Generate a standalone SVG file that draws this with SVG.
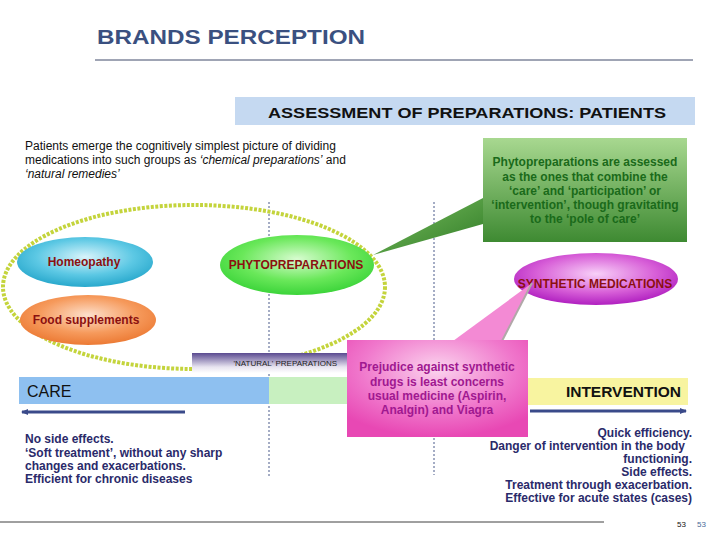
<svg xmlns="http://www.w3.org/2000/svg" width="720" height="540" viewBox="0 0 720 540">
<defs>
<radialGradient id="gCyan" cx="50%" cy="40%" r="60%"><stop offset="0" stop-color="#d8f4fb"/><stop offset="0.6" stop-color="#5cc8e4"/><stop offset="1" stop-color="#28a8cc"/></radialGradient>
<radialGradient id="gOrange" cx="50%" cy="40%" r="60%"><stop offset="0" stop-color="#fde0cc"/><stop offset="0.6" stop-color="#f69a5c"/><stop offset="1" stop-color="#ec7a34"/></radialGradient>
<radialGradient id="gGreen" cx="50%" cy="40%" r="60%"><stop offset="0" stop-color="#d8fcd0"/><stop offset="0.6" stop-color="#6ae85a"/><stop offset="1" stop-color="#3cd43a"/></radialGradient>
<radialGradient id="gMag" cx="50%" cy="40%" r="60%"><stop offset="0" stop-color="#f8d0f8"/><stop offset="0.6" stop-color="#d860d8"/><stop offset="1" stop-color="#b020c0"/></radialGradient>
<linearGradient id="gBox" x1="0" y1="0" x2="0" y2="1"><stop offset="0" stop-color="#a8d890"/><stop offset="1" stop-color="#3e8a32"/></linearGradient>
<linearGradient id="gWedge" x1="0" y1="0" x2="1" y2="1"><stop offset="0" stop-color="#7cc060"/><stop offset="1" stop-color="#2e7a26"/></linearGradient>
<radialGradient id="gPink" cx="50%" cy="30%" r="70%"><stop offset="0" stop-color="#fbd4ee"/><stop offset="0.6" stop-color="#f078cc"/><stop offset="1" stop-color="#e848b4"/></radialGradient>
<linearGradient id="gNat" x1="0" y1="0" x2="0" y2="1"><stop offset="0" stop-color="#5a4a90"/><stop offset="0.7" stop-color="#e8e4f0"/><stop offset="1" stop-color="#ffffff"/></linearGradient>
<marker id="arr" markerWidth="8" markerHeight="8" refX="6" refY="4" orient="auto" markerUnits="userSpaceOnUse"><path d="M0,1 L7,4 L0,7 Z" fill="#3a4a8a"/></marker>
</defs>
<style>
text{font-family:"Liberation Sans",Arial,sans-serif}
.lbl{font-size:12px;font-weight:bold;fill:#8b1010;text-anchor:middle}
.guide{stroke:#4a5a8a;stroke-width:1;stroke-dasharray:2 2;fill:none}
.body{font-size:12px;font-weight:bold;fill:#2a2a6a}
</style>
<rect width="720" height="540" fill="#ffffff"/>
<text x="97" y="44" font-size="21" font-weight="bold" fill="#3a5080" textLength="268" lengthAdjust="spacingAndGlyphs">BRANDS PERCEPTION</text>
<line x1="95" y1="60" x2="693" y2="60" stroke="#404a6a" stroke-width="1"/>
<rect x="235" y="97" width="460" height="28" fill="#c5d9f1"/>
<text x="467" y="118" font-size="15" font-weight="bold" fill="#111" text-anchor="middle" textLength="398" lengthAdjust="spacingAndGlyphs">ASSESSMENT OF PREPARATIONS: PATIENTS</text>
<text font-size="12" fill="#111"><tspan x="25" y="150">Patients emerge the cognitively simplest picture of dividing</tspan><tspan x="25" y="164">medications into such groups as <tspan font-style="italic">‘chemical preparations’</tspan> and</tspan><tspan x="25" y="178" font-style="italic">‘natural remedies’</tspan></text>
<g id="guides">
<line class="guide" x1="269" y1="202" x2="269" y2="477"/>
<line class="guide" x1="434" y1="202" x2="434" y2="475"/>
</g>
<g id="natural-group">
<ellipse cx="194" cy="287" rx="191" ry="82" fill="none" stroke="#c4d43c" stroke-width="4" stroke-dasharray="3 1.5"/>
</g>
<g id="natural-preparations">
<rect x="192" y="353" width="156" height="20" fill="url(#gNat)"/>
<text x="337" y="366" font-size="8" fill="#222" text-anchor="end">'NATURAL' PREPARATIONS</text>
</g>
<g id="care">
<rect x="19" y="377" width="250" height="27" fill="#8ec0f0"/>
<rect x="269" y="377" width="79" height="27" fill="#c8f0c0"/>
<text x="27" y="397" font-size="16" fill="#111">CARE</text>
</g>
<g id="intervention">
<rect x="528" y="378" width="160" height="27" fill="#f8f4a0"/>
<text x="681" y="397" font-size="15.5" font-weight="bold" fill="#111" text-anchor="end">INTERVENTION</text>
</g>
<g id="connectors">
<line x1="185" y1="412" x2="22" y2="412" stroke="#3a4a8a" stroke-width="3" marker-end="url(#arr)"/>
<line x1="530" y1="411" x2="686" y2="411" stroke="#3a4a8a" stroke-width="3" marker-end="url(#arr)"/>
</g>
<g id="homeopathy">
<ellipse cx="85" cy="262" rx="68" ry="25" fill="url(#gCyan)"/>
<text class="lbl" x="84" y="266">Homeopathy</text>
</g>
<g id="food-supplements">
<ellipse cx="88" cy="320" rx="68" ry="25" fill="url(#gOrange)"/>
<text class="lbl" x="86" y="324">Food supplements</text>
</g>
<g id="phytopreparations">
<ellipse cx="297" cy="265" rx="77" ry="30" fill="url(#gGreen)"/>
<text class="lbl" x="296" y="269">PHYTOPREPARATIONS</text>
</g>
<g id="synthetic-medications">
<ellipse cx="596" cy="279" rx="82" ry="26" fill="url(#gMag)"/>
<text class="lbl" x="595" y="288">SYNTHETIC MEDICATIONS</text>
</g>
<g id="phyto-callout">
<polygon points="483,198 483,224 373,255" fill="url(#gWedge)"/>
<rect x="483" y="138" width="204" height="104" fill="url(#gBox)"/>
<text font-size="12" font-weight="bold" fill="#1a6a1a" text-anchor="middle"><tspan x="585" y="166">Phytopreparations are assessed</tspan><tspan x="585" y="181">as the ones that combine the</tspan><tspan x="585" y="195">‘care’ and ‘participation’ or</tspan><tspan x="585" y="209">‘intervention’, though gravitating</tspan><tspan x="585" y="223">to the ‘pole of care’</tspan></text>
</g>
<g id="prejudice-callout">
<polygon points="453,341 502,341 532,283" fill="#f38ad4"/>
<line x1="502" y1="341" x2="532" y2="283" stroke="#b0a8a8" stroke-width="2"/>
<rect x="347" y="340" width="181" height="97" fill="url(#gPink)"/>
<text font-size="12" font-weight="bold" fill="#a01890" text-anchor="middle"><tspan x="437" y="371">Prejudice against synthetic</tspan><tspan x="437" y="386">drugs is least concerns</tspan><tspan x="437" y="400">usual medicine (Aspirin,</tspan><tspan x="437" y="414">Analgin) and Viagra</tspan></text>
</g>
<text class="body"><tspan x="25" y="443">No side effects.</tspan><tspan x="25" y="457">‘Soft treatment’, without any sharp</tspan><tspan x="25" y="470">changes and exacerbations.</tspan><tspan x="25" y="483">Efficient for chronic diseases</tspan></text>
<text class="body" text-anchor="end"><tspan x="692" y="437">Quick efficiency.</tspan><tspan x="685" y="450">Danger of intervention in the body</tspan><tspan x="692" y="463">functioning.</tspan><tspan x="692" y="476">Side effects.</tspan><tspan x="692" y="489">Treatment through exacerbation.</tspan><tspan x="692" y="502">Effective for acute states (cases)</tspan></text>
<line x1="0" y1="522" x2="604" y2="522" stroke="#404040" stroke-width="1"/>
<text x="677" y="527" font-size="8" fill="#111">53</text>
<text x="697" y="527" font-size="8" fill="#4a6a9a">53</text>
</svg>
